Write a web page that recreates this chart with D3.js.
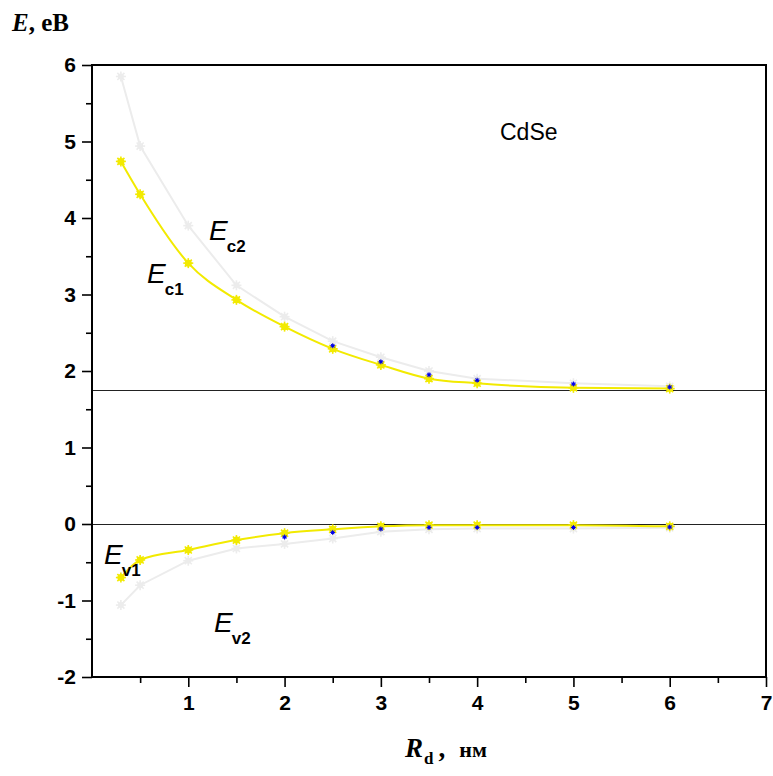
<!DOCTYPE html>
<html>
<head>
<meta charset="utf-8">
<script src="https://cdn.jsdelivr.net/npm/d3@7"></script>
<style>
  html, body { margin: 0; padding: 0; background: #fff; }
  svg { display: block; }
</style>
</head>
<body>
<svg id="chart" width="773" height="776"></svg>
<script>
// Quantum dot radius, nm
const radius = [0.3, 0.5, 1, 1.5, 2, 2.5, 3, 3.5, 4, 5, 6];
// Conduction-band levels, eV
const ec1 = [4.74, 4.31, 3.41, 2.93, 2.58, 2.29, 2.08, 1.90, 1.84, 1.78, 1.77];
const ec2 = [5.85, 4.94, 3.90, 3.12, 2.71, 2.39, 2.18, 2.00, 1.90, 1.84, 1.80];
// Valence-band levels, eV
const ev1 = [-0.70, -0.47, -0.34, -0.21, -0.12, -0.07, -0.03, -0.015, -0.015, -0.015, -0.03];
const ev2 = [-1.06, -0.80, -0.48, -0.32, -0.26, -0.19, -0.10, -0.07, -0.06, -0.06, -0.05];
// Reference calculation (large radii)
const radiusRef = [2.5, 3, 3.5, 4, 5, 6];
const ecRef = [2.33, 2.12, 1.95, 1.88, 1.83, 1.79];
const radiusRefV = [2, 2.5, 3, 3.5, 4, 5, 6];
const evRef = [-0.17, -0.11, -0.065, -0.045, -0.045, -0.045, -0.04];
// Bulk levels: conduction band bottom and valence band top
const bulkLevels = [1.75, 0];

const xTicks = [1, 2, 3, 4, 5, 6, 7];
const yTicks = [-2, -1, 0, 1, 2, 3, 4, 5, 6];

const svg = d3.select("#chart");
const x = d3.scaleLinear().domain([0, 7]).range([92, 766]);
const y = d3.scaleLinear().domain([-2, 6]).range([677, 65]);

const GRAY = "#ececec", YELLOW = "#f2ea00", BLUE = "#0000ee";

// bulk reference lines
svg.selectAll("line.bulk").data(bulkLevels).enter().append("line")
  .attr("x1", x(0)).attr("x2", x(7))
  .attr("y1", d => y(d)).attr("y2", d => y(d))
  .attr("stroke", "#222").attr("stroke-width", 1)
  .attr("shape-rendering", "crispEdges");

const pairs = (xs, ys) => xs.map((v, i) => [v, ys[i]]);
const lineLin = d3.line().x(d => x(d[0])).y(d => y(d[1]));
const lineSmooth = d3.line().x(d => x(d[0])).y(d => y(d[1])).curve(d3.curveMonotoneX);

function asterisk(g, pts, color, r, sw, core) {
  const sel = g.selectAll(null).data(pts).enter().append("g")
    .attr("transform", d => `translate(${x(d[0])},${y(d[1])})`);
  sel.append("circle").attr("r", r * core).attr("fill", color);
  [0, 45, 90, 135].forEach(a => {
    const rad = a * Math.PI / 180;
    sel.append("line")
      .attr("x1", -r * Math.cos(rad)).attr("y1", -r * Math.sin(rad))
      .attr("x2", r * Math.cos(rad)).attr("y2", r * Math.sin(rad))
      .attr("stroke", color).attr("stroke-width", sw);
  });
}

const plot = svg.append("g");
// second levels (light grey)
[ec2, ev2].forEach(s => {
  plot.append("path").attr("d", lineLin(pairs(radius, s)))
    .attr("fill", "none").attr("stroke", GRAY).attr("stroke-width", 2);
  asterisk(plot, pairs(radius, s), GRAY, 5, 1.6, 0.6);
});
// first levels (yellow)
[ec1, ev1].forEach(s => {
  plot.append("path").attr("d", lineSmooth(pairs(radius, s)))
    .attr("fill", "none").attr("stroke", YELLOW).attr("stroke-width", 2);
  asterisk(plot, pairs(radius, s), YELLOW, 5, 1.6, 0.7);
});
// reference calculation markers (blue)
asterisk(plot, pairs(radiusRef, ecRef), BLUE, 2.5, 1, 0.6);
asterisk(plot, pairs(radiusRefV, evRef), BLUE, 2.5, 1, 0.6);

// frame
svg.append("rect").attr("x", x(0)).attr("y", y(6))
  .attr("width", x(7) - x(0)).attr("height", y(-2) - y(6))
  .attr("fill", "none").attr("stroke", "#000").attr("stroke-width", 2)
  .attr("shape-rendering", "crispEdges");

const tickFont = "'Liberation Sans', Arial, sans-serif";
const fmt = d => String(d);
// y axis
svg.append("g").attr("transform", `translate(${x(0)},0)`)
  .call(d3.axisLeft(y).tickValues(yTicks).tickSize(10).tickPadding(6).tickFormat(fmt));
svg.append("g").attr("transform", `translate(${x(0)},0)`)
  .call(d3.axisLeft(y).tickValues(d3.range(-1.5, 6, 1)).tickSize(6).tickFormat(""));
// x axis
svg.append("g").attr("transform", `translate(0,${y(-2)})`)
  .call(d3.axisBottom(x).tickValues(xTicks).tickSize(10).tickPadding(8).tickFormat(fmt));
svg.append("g").attr("transform", `translate(0,${y(-2)})`)
  .call(d3.axisBottom(x).tickValues(d3.range(0.5, 7, 1)).tickSize(6).tickFormat(""));
svg.selectAll(".domain").remove();
svg.selectAll(".tick line").attr("stroke", "#000").attr("stroke-width", 1.6);
svg.selectAll(".tick text").attr("font-family", tickFont).attr("font-weight", "bold")
  .attr("font-size", 21).attr("fill", "#000");

// axis titles
const serif = "'Liberation Serif', 'Times New Roman', serif";
const yt = svg.append("text").attr("x", 12).attr("y", 31)
  .attr("font-family", serif).attr("font-weight", "bold").attr("font-size", 25);
yt.append("tspan").attr("font-style", "italic").text("E");
yt.append("tspan").text(", eB");

const xt = svg.append("text").attr("x", 405).attr("y", 757)
  .attr("font-family", serif).attr("font-weight", "bold").attr("font-size", 27);
xt.append("tspan").attr("font-style", "italic").text("R");
xt.append("tspan").attr("font-size", 17).attr("dy", 7).attr("dx", 1).text("d");
xt.append("tspan").attr("dy", -7).attr("dx", 5).text(",");
xt.append("tspan").attr("font-size", 22).attr("dx", 14).text("нм");

// material label
svg.append("text").attr("x", 500).attr("y", 140)
  .attr("font-family", tickFont).attr("font-size", 23).text("CdSe");

// level labels
const levelLabels = [
  {main: "E", sub: "c2", x: 209, y: 240},
  {main: "E", sub: "c1", x: 147, y: 283},
  {main: "E", sub: "v1", x: 104, y: 564},
  {main: "E", sub: "v2", x: 214, y: 632}
];
levelLabels.forEach(l => {
  const t = svg.append("text").attr("x", l.x).attr("y", l.y)
    .attr("font-family", tickFont).attr("font-size", 28);
  t.append("tspan").attr("font-style", "italic").text(l.main);
  t.append("tspan").attr("font-size", 17).attr("font-weight", "bold").attr("dy", 12).attr("dx", -1).text(l.sub);
});
</script>
</body>
</html>
